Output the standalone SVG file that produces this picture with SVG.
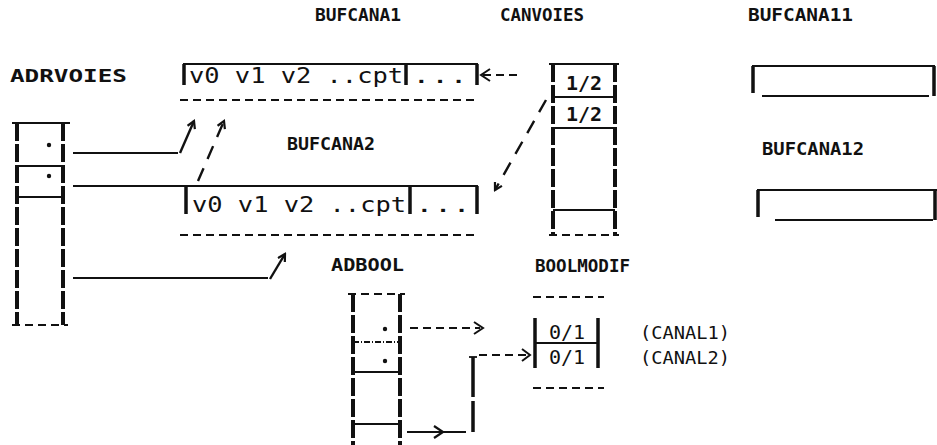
<svg xmlns="http://www.w3.org/2000/svg" width="937" height="445" viewBox="0 0 937 445">
<defs>
<style>
.lbl{font-family:"DejaVu Sans Mono","Liberation Mono",monospace;font-weight:bold;font-size:17.5px;fill:#111}
.cell{font-family:"DejaVu Sans Mono","Liberation Mono",monospace;font-size:22px;fill:#111}
.val{font-family:"DejaVu Sans Mono","Liberation Mono",monospace;font-size:20px;font-weight:bold;fill:#111}
.val2{font-family:"DejaVu Sans Mono","Liberation Mono",monospace;font-size:20px;font-weight:normal;fill:#111}
.cmt{font-family:"DejaVu Sans Mono","Liberation Mono",monospace;font-size:17px;fill:#111}
.col{stroke:#111;stroke-width:4;fill:none;stroke-dasharray:18 3}
.bar{stroke:#111;stroke-width:3.5;fill:none}
.ln{stroke:#111;stroke-width:1.8;fill:none}
.dl{stroke:#111;stroke-width:1.8;fill:none;stroke-dasharray:8 5}
.ar{stroke:#111;stroke-width:2.4;fill:none}
.ard{stroke:#111;stroke-width:2.4;fill:none;stroke-dasharray:14 10}
</style>
<marker id="hd" markerWidth="10" markerHeight="10" refX="8" refY="5" orient="auto" markerUnits="userSpaceOnUse">
<path d="M1,1 L8,5 L1,9" fill="none" stroke="#111" stroke-width="2.2"/>
</marker>
</defs>

<g id="adrvoies">
<text class="lbl" x="10" y="82" textLength="117" lengthAdjust="spacingAndGlyphs">ADRVOIES</text>
<line class="ln" x1="12" y1="123" x2="70" y2="123"/>
<line class="col" x1="17" y1="123" x2="17" y2="325"/>
<line class="col" x1="63" y1="123" x2="63" y2="325"/>
<line class="ln" x1="17" y1="166" x2="63" y2="166"/>
<line class="ln" x1="17" y1="197" x2="63" y2="197"/>
<line class="dl" x1="12" y1="325" x2="68" y2="325"/>
<circle cx="49" cy="145" r="2.2" fill="#111"/>
<circle cx="49" cy="176" r="2.2" fill="#111"/>
</g>

<g id="bufcana1">
<text class="lbl" x="315" y="21" textLength="86" lengthAdjust="spacingAndGlyphs">BUFCANA1</text>
<line class="ln" x1="183" y1="64" x2="478" y2="64"/>
<line class="bar" x1="184" y1="64" x2="184" y2="85"/>
<line class="bar" x1="406" y1="64" x2="406" y2="85"/>
<line class="bar" x1="477" y1="64" x2="477" y2="85"/>
<text class="cell" x="189" y="83" textLength="214" lengthAdjust="spacingAndGlyphs">v0 v1 v2 ..cpt</text>
<text class="cell" x="412" y="83" textLength="56" lengthAdjust="spacingAndGlyphs">...</text>
<line class="dl" x1="180" y1="100" x2="478" y2="100"/>
</g>

<g id="bufcana2">
<text class="lbl" x="287" y="150" textLength="88" lengthAdjust="spacingAndGlyphs">BUFCANA2</text>
<line class="ln" x1="185" y1="186" x2="478" y2="186"/>
<line class="bar" x1="186" y1="186" x2="186" y2="214"/>
<line class="bar" x1="410" y1="186" x2="410" y2="214"/>
<line class="bar" x1="477" y1="186" x2="477" y2="214"/>
<text class="cell" x="192" y="212" textLength="214" lengthAdjust="spacingAndGlyphs">v0 v1 v2 ..cpt</text>
<text class="cell" x="415" y="212" textLength="56" lengthAdjust="spacingAndGlyphs">...</text>
<line class="dl" x1="180" y1="235" x2="478" y2="235"/>
</g>

<g id="canvoies">
<text class="lbl" x="500" y="21" textLength="84" lengthAdjust="spacingAndGlyphs">CANVOIES</text>
<line class="col" x1="553" y1="64" x2="553" y2="236"/>
<line class="col" x1="615" y1="64" x2="615" y2="236"/>
<line class="ln" x1="549" y1="64" x2="619" y2="64"/>
<line class="ln" x1="553" y1="97" x2="615" y2="97"/>
<line class="ln" x1="553" y1="128" x2="615" y2="128"/>
<line class="ln" x1="553" y1="210" x2="615" y2="210"/>
<line class="dl" x1="549" y1="235" x2="619" y2="235"/>
<text class="val" x="584" y="90" text-anchor="middle">1/2</text>
<text class="val" x="584" y="121" text-anchor="middle">1/2</text>
</g>

<g id="bufcana11">
<text class="lbl" x="748" y="21" textLength="105" lengthAdjust="spacingAndGlyphs">BUFCANA11</text>
<line class="ln" x1="752" y1="66" x2="935" y2="66" stroke-width="1"/>
<line class="bar" x1="753" y1="66" x2="753" y2="93"/>
<line class="ln" x1="762" y1="96" x2="929" y2="96"/>
<line class="bar" x1="934" y1="66" x2="934" y2="96"/>
</g>

<g id="bufcana12">
<text class="lbl" x="762" y="155" textLength="102" lengthAdjust="spacingAndGlyphs">BUFCANA12</text>
<line class="ln" x1="757" y1="190" x2="937" y2="190" stroke-width="1"/>
<line class="bar" x1="758" y1="190" x2="758" y2="217"/>
<line class="ln" x1="775" y1="220" x2="933" y2="220"/>
<line class="bar" x1="935" y1="190" x2="935" y2="220"/>
</g>

<g id="adbool">
<text class="lbl" x="331" y="271" textLength="73" lengthAdjust="spacingAndGlyphs">ADBOOL</text>
<line class="dl" x1="348" y1="294" x2="405" y2="294"/>
<line class="col" x1="353" y1="294" x2="353" y2="445"/>
<line class="col" x1="400" y1="294" x2="400" y2="445"/>
<line class="ln" x1="353" y1="342" x2="400" y2="342" stroke-width="1.2" stroke-dasharray="6 2 1 2"/>
<line class="ln" x1="353" y1="372" x2="400" y2="372" stroke-width="1.2"/>
<line class="ln" x1="353" y1="424" x2="400" y2="424"/>
<circle cx="385" cy="329" r="2.2" fill="#111"/>
<circle cx="385" cy="361" r="2.2" fill="#111"/>
</g>

<g id="boolmodif">
<text class="lbl" x="535" y="272" textLength="95" lengthAdjust="spacingAndGlyphs">BOOLMODIF</text>
<line class="dl" x1="533" y1="297" x2="604" y2="297"/>
<line class="bar" x1="535" y1="318" x2="535" y2="368"/>
<line class="bar" x1="598" y1="318" x2="598" y2="368"/>
<line class="ln" x1="535" y1="343" x2="598" y2="343"/>
<text class="val2" x="567" y="339" text-anchor="middle">0/1</text>
<text class="val2" x="567" y="364" text-anchor="middle">0/1</text>
<line class="dl" x1="533" y1="388" x2="604" y2="388"/>
<text class="cmt" x="640" y="339" textLength="90" lengthAdjust="spacingAndGlyphs">(CANAL1)</text>
<text class="cmt" x="640" y="364" textLength="90" lengthAdjust="spacingAndGlyphs">(CANAL2)</text>
</g>

<g id="connectors">
<polyline class="ln" points="73,153 178,153"/>
<line class="ar" x1="180" y1="153" x2="194" y2="121" marker-end="url(#hd)"/>
<line class="ln" x1="73" y1="186" x2="185" y2="186"/>
<path class="ard" d="M198,181 L224,121" marker-end="url(#hd)"/>
<line class="ln" x1="73" y1="278" x2="268" y2="278"/>
<line class="ar" x1="270" y1="279" x2="285" y2="254" marker-end="url(#hd)"/>
<path class="dl" d="M517,75 L483,75"/>
<path d="M490,69 L481,75 L490,81" fill="none" stroke="#111" stroke-width="2"/>
<path class="ard" d="M546,100 L495,190" marker-end="url(#hd)"/>
<path class="dl" d="M410,328 L480,328"/>
<path d="M474,322 L483,328 L474,334" fill="none" stroke="#111" stroke-width="2"/>
<line class="bar" x1="473" y1="357" x2="473" y2="432" stroke-dasharray="40 4"/>
<line class="ln" x1="469" y1="357" x2="477" y2="357"/>
<path class="dl" d="M479,355 L527,355"/>
<path d="M522,349 L530,355 L522,361" fill="none" stroke="#111" stroke-width="2"/>
<line class="ln" x1="407" y1="432" x2="466" y2="432"/>
<path d="M434,426 L443,432 L434,438" fill="none" stroke="#111" stroke-width="2.2"/>
</g>
</svg>
